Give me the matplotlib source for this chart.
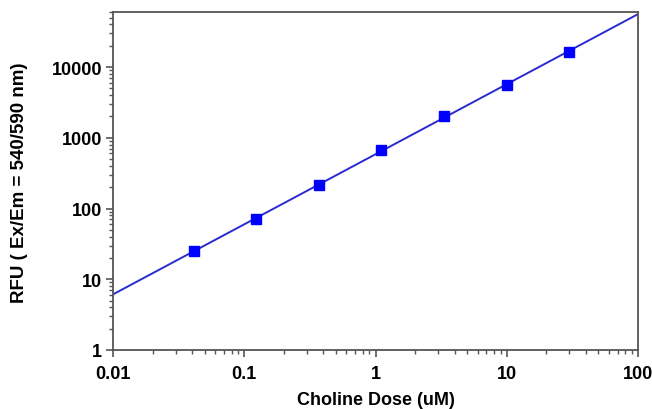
import numpy as np
import matplotlib
matplotlib.use("Agg")
import matplotlib.pyplot as plt
from matplotlib.ticker import LogLocator, FixedLocator, FixedFormatter, NullFormatter

dose = [0.0412, 0.123, 0.37, 1.11, 3.33, 10.0, 30.0]
rfu = [24.8, 71.0, 214, 680, 2065, 5610, 16300]
xticks = [0.01, 0.1, 1, 10, 100]
xticklabels = ["0.01", "0.1", "1", "10", "100"]
yticks = [1, 10, 100, 1000, 10000]
yticklabels = ["1", "10", "100", "1000", "10000"]

plt.rcParams['font.family'] = ['Liberation Sans', 'DejaVu Sans']

fig = plt.figure(figsize=(6.52, 4.10), dpi=100)
ax = fig.add_axes([113/652, 1 - 351/410, (638-113)/652, (351-13)/410])

# log-log linear fit line
lx = np.log10(dose)
ly = np.log10(rfu)
slope, icpt = np.polyfit(lx, ly, 1)
xf = np.array([0.01, 100])
yf = 10 ** (icpt + slope * np.log10(xf))
ax.plot(xf, yf, color='#2a2ad0', lw=1.4, zorder=2, clip_on=True)
ax.plot(dose, rfu, linestyle='none', marker='s', markersize=6.5,
        color='#0000ff', markeredgecolor='#0000ff', zorder=3)

ax.set_xscale('log')
ax.set_yscale('log')
ax.set_xlim(0.01, 100)
ax.set_ylim(1, 60000)

ax.xaxis.set_major_locator(FixedLocator(xticks))
ax.xaxis.set_major_formatter(FixedFormatter(xticklabels))
ax.yaxis.set_major_locator(FixedLocator(yticks))
ax.yaxis.set_major_formatter(FixedFormatter(yticklabels))
ax.xaxis.set_minor_locator(LogLocator(base=10, subs=np.arange(2, 10), numticks=20))
ax.yaxis.set_minor_locator(LogLocator(base=10, subs=np.arange(2, 10), numticks=20))
ax.xaxis.set_minor_formatter(NullFormatter())
ax.yaxis.set_minor_formatter(NullFormatter())

for s in ax.spines.values():
    s.set_color('#555555')
    s.set_linewidth(1.3)

ax.tick_params(which='major', direction='out', length=5, width=1.2, color='#555555',
               labelsize=13, pad=3, top=False, right=False)
ax.tick_params(which='minor', direction='out', length=3, width=1.0, color='#555555',
               top=False, right=False)
ax.tick_params(axis='x', which='major', pad=6)
for lab in ax.get_xticklabels() + ax.get_yticklabels():
    lab.set_fontweight('bold')

fig.text((113 + 638) / 2 / 652, 1 - 409 / 410, 'Choline Dose (uM)', fontsize=13,
         fontweight='bold', ha='center', va='bottom')
fig.text(20 / 652, 1 - 183 / 410, 'RFU ( Ex/Em = 540/590 nm)', fontsize=13.5,
         fontweight='bold', ha='center', va='center', rotation=90)

fig.savefig('out.png', dpi=100)
